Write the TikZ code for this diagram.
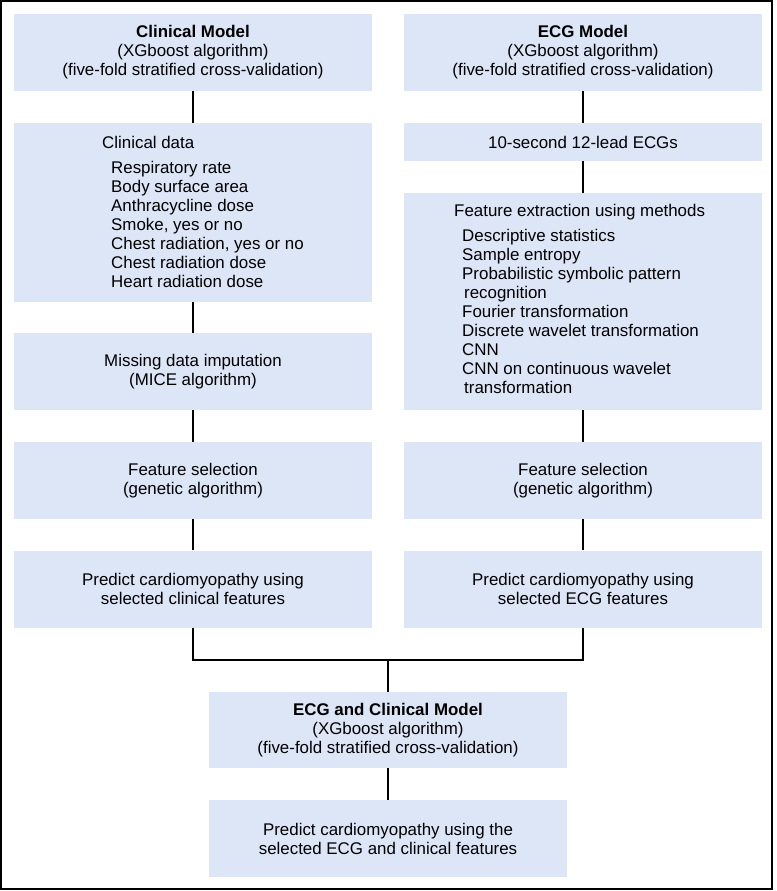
\documentclass[tikz,border=0pt]{standalone}
\usepackage{fontspec}
\setmainfont{Liberation Sans}
\definecolor{boxblue}{RGB}{220,230,247}

\begin{document}
\begin{tikzpicture}[x=1pt, y=-1pt,
		blk/.style={fill=boxblue, minimum width=358pt, minimum height=77pt, inner sep=0pt, align=center, font=\fontsize{16.9}{19}\selectfont},
		lst/.style={anchor=north west, inner sep=0pt, align=left, font=\fontsize{16.9}{19}\selectfont},
		link/.style={line width=2pt}]
		
		% frame
		\useasboundingbox (0,0) rectangle (776,891);
		\draw[line width=1.4pt] (1,1) rectangle (772,889);
		
		% clinical column
		\node[blk] (clin) at (193,52.5) {\textbf{Clinical Model}\\(XGboost algorithm)\\(five-fold stratified cross-validation)};
		\node[blk, minimum height=179pt] (cdata) at (193,212.5) {};
		\node[lst] (cdatalist) at (102,136) {Clinical data\\[6pt]
			\hspace*{9pt}Respiratory rate\\
			\hspace*{9pt}Body surface area\\
			\hspace*{9pt}Anthracycline dose\\
			\hspace*{9pt}Smoke, yes or no\\
			\hspace*{9pt}Chest radiation, yes or no\\
			\hspace*{9pt}Chest radiation dose\\
			\hspace*{9pt}Heart radiation dose};
		\node[blk] (mice) at (193,371.5) {Missing data imputation\\(MICE algorithm)};
		\node[blk] (lsel) at (193,480.5) {Feature selection\\(genetic algorithm)};
		\node[blk] (lpred) at (193,589) {Predict cardiomyopathy using\\selected clinical features};
		
		% ECG column
		\node[blk] (ecg) at (583,52.5) {\textbf{ECG Model}\\(XGboost algorithm)\\(five-fold stratified cross-validation)};
		\node[blk, minimum height=38pt] (leads) at (583,142) {10-second 12-lead ECGs};
		\node[blk, minimum height=217pt] (fext) at (583,301.5) {};
		\node[lst] (fextlist) at (454,204) {Feature extraction using methods\\[6pt]
			\hspace*{8pt}Descriptive statistics\\
			\hspace*{8pt}Sample entropy\\
			\hspace*{8pt}Probabilistic symbolic pattern\\
			\hspace*{10pt}recognition\\
			\hspace*{8pt}Fourier transformation\\
			\hspace*{8pt}Discrete wavelet transformation\\
			\hspace*{8pt}CNN\\
			\hspace*{8pt}CNN on continuous wavelet\\
			\hspace*{10pt}transformation};
		\node[blk] (rsel) at (583,480.5) {Feature selection\\(genetic algorithm)};
		\node[blk] (rpred) at (583,589) {Predict cardiomyopathy using\\selected ECG features};
		
		% combined model
		\node[blk, minimum height=76pt] (both) at (388,730) {\textbf{ECG and Clinical Model}\\(XGboost algorithm)\\(five-fold stratified cross-validation)};
		\node[blk] (final) at (388,838.5) {Predict cardiomyopathy using the\\selected ECG and clinical features};
		
		% links
		\draw[link] (clin) -- (cdata);
		\draw[link] (cdata) -- (mice);
		\draw[link] (mice) -- (lsel);
		\draw[link] (lsel) -- (lpred);
		
		\draw[link] (ecg) -- (leads);
		\draw[link] (leads) -- (fext);
		\draw[link] (fext) -- (rsel);
		\draw[link] (rsel) -- (rpred);
		
		\coordinate (join) at (388,660);
		\draw[link] (lpred.south) |- (join) -| (rpred.south);
		\draw[link] (join) -- (both);
		\draw[link] (both) -- (final);
		
	\end{tikzpicture}
\end{document}
